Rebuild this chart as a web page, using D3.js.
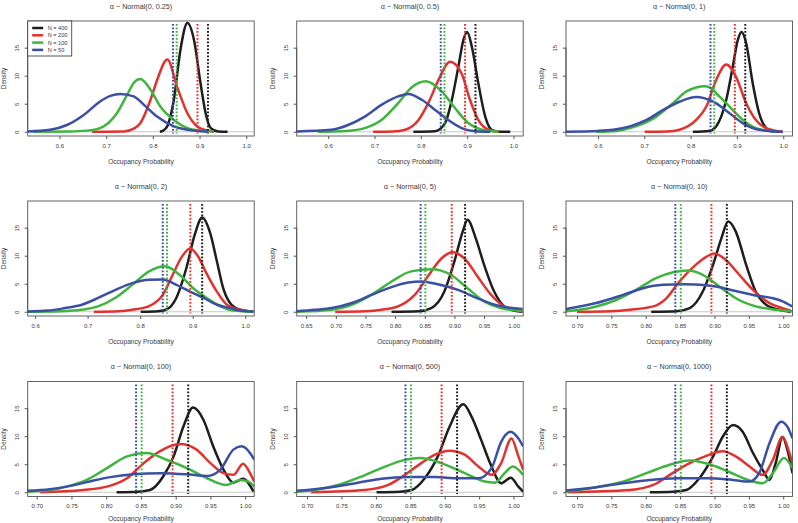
<!DOCTYPE html>
<html><head><meta charset="utf-8">
<script src="https://cdn.jsdelivr.net/npm/d3@7"></script>
<style>body{margin:0;background:#fff}</style></head>
<body><svg id="c" width="798" height="523"></svg>
<script>
// ---------- data ----------
const panelTitles = ["α ~ Normal(0, 0.25)","α ~ Normal(0, 0.5)","α ~ Normal(0, 1)",
  "α ~ Normal(0, 2)","α ~ Normal(0, 5)","α ~ Normal(0, 10)",
  "α ~ Normal(0, 100)","α ~ Normal(0, 500)","α ~ Normal(0, 1000)"];
const seriesLabels = ["N = 400","N = 200","N = 100","N = 50"];
const trueValues = [0.918, 0.8955, 0.851, 0.843];
const xDomains = [[0.532,1.017],[0.532,1.021],[0.531,1.020],[0.586,1.017],[0.634,1.016],
  [0.684,1.0135],[0.687,1.013],[0.685,1.014],[0.684,1.0135]];
const xTicksA = [0.6,0.7,0.8,0.9,1.0];
const xTicksB = [0.65,0.70,0.75,0.80,0.85,0.90,0.95,1.00];
const xTicksC = [0.70,0.75,0.80,0.85,0.90,0.95,1.00];
const yTicks = [0,5,10,15];
const yLimits = [0,19];
const xLabel = "Occupancy Probability";
const yLabel = "Density";

const p1_N400=[[0.815,0],[0.822,0.2],[0.831,1.0],[0.845,5.7],[0.859,14.6],[0.874,19.4],[0.888,16.4],[0.902,8.7],[0.913,3.3],[0.924,0.65],[0.94,0.05],[0.960,0]];
const p1_N200=[[0.670,0],[0.738,0.05],[0.760,0.6],[0.773,1.5],[0.795,5.7],[0.809,9.2],[0.831,12.9],[0.852,8.0],[0.874,3.3],[0.895,0.95],[0.917,0.2],[0.931,0]];
const p1_N100=[[0.544,0],[0.62,0.05],[0.66,0.2],[0.687,0.65],[0.723,3.3],[0.745,6.6],[0.759,8.7],[0.773,9.4],[0.795,7.5],[0.816,4.5],[0.845,2.1],[0.874,0.65],[0.902,0.2],[0.93,0]];
const p1_N50=[[0.532,0.05],[0.580,0.35],[0.616,1.2],[0.652,3.0],[0.687,5.4],[0.709,6.4],[0.730,6.75],[0.759,6.3],[0.781,4.8],[0.809,2.7],[0.845,0.95],[0.874,0.35],[0.917,0.02]];

const p2_N400=[[0.784,0],[0.83,0.1],[0.852,1.5],[0.867,5.7],[0.881,11.6],[0.892,16.4],[0.900,17.8],[0.910,15.2],[0.924,8.7],[0.939,2.7],[0.953,0.35],[0.97,0.02],[0.993,0]];
const p2_N200=[[0.697,0],[0.74,0.05],[0.766,0.35],[0.795,2.1],[0.816,5.1],[0.838,9.2],[0.863,12.5],[0.888,10.4],[0.906,5.7],[0.924,2.1],[0.946,0.35],[0.968,0]];
const p2_N100=[[0.578,0],[0.64,0.15],[0.679,0.65],[0.715,2.1],[0.751,5.1],[0.780,7.9],[0.811,9.0],[0.845,7.2],[0.874,4.2],[0.903,1.5],[0.932,0.35],[0.968,0]];
const p2_N50=[[0.532,0.05],[0.607,0.35],[0.643,1.2],[0.679,2.7],[0.715,4.8],[0.751,6.3],[0.773,6.75],[0.802,5.7],[0.831,3.9],[0.859,2.1],[0.888,0.65],[0.924,0.06],[0.95,0]];

const p3_N400=[[0.805,0],[0.84,0.15],[0.855,0.95],[0.877,5.7],[0.891,11.6],[0.902,16.4],[0.910,17.8],[0.920,15.8],[0.934,8.7],[0.948,3.3],[0.963,0.65],[0.975,0.1],[0.991,0]];
const p3_N200=[[0.701,0],[0.75,0.05],[0.776,0.35],[0.812,2.1],[0.834,4.5],[0.855,9.2],[0.877,12.0],[0.898,9.8],[0.920,5.1],[0.941,2.1],[0.963,0.65],[0.999,0]];
const p3_N100=[[0.597,0],[0.64,0.15],[0.669,0.65],[0.726,2.7],[0.762,5.1],[0.791,7.2],[0.812,7.9],[0.83,8.1],[0.841,7.9],[0.862,6.3],[0.884,4.5],[0.913,2.1],[0.941,0.65],[0.984,0]];
const p3_N50=[[0.531,0.02],[0.60,0.15],[0.633,0.35],[0.669,0.95],[0.705,2.1],[0.741,3.9],[0.777,5.4],[0.812,6.2],[0.848,5.4],[0.884,3.3],[0.913,1.5],[0.948,0.35],[0.999,0]];

const p4_N400=[[0.801,0],[0.835,0.1],[0.849,0.35],[0.869,2.5],[0.888,7.8],[0.904,13.8],[0.918,16.8],[0.933,14.1],[0.946,9.0],[0.958,4.2],[0.971,1.55],[0.990,0.35],[1.013,0]];
const p4_N200=[[0.712,0],[0.76,0.1],[0.785,0.35],[0.817,1.0],[0.843,3.0],[0.862,6.6],[0.878,9.6],[0.895,11.3],[0.910,9.9],[0.926,6.9],[0.946,3.6],[0.965,1.25],[0.990,0.35],[1.016,0]];
const p4_N100=[[0.58,0],[0.65,0.1],[0.689,0.35],[0.721,1.0],[0.753,2.5],[0.785,4.8],[0.817,7.2],[0.847,8.1],[0.875,6.6],[0.901,4.2],[0.926,2.5],[0.952,1.0],[0.978,0.2],[1.016,0]];
const p4_N50=[[0.58,0.05],[0.625,0.2],[0.657,0.65],[0.689,1.25],[0.721,2.5],[0.753,3.9],[0.785,5.1],[0.817,5.7],[0.843,5.75],[0.869,4.8],[0.895,3.6],[0.920,2.5],[0.946,1.25],[0.971,0.65],[0.990,0.2],[1.016,0.05]];

const p5_N400=[[0.794,0],[0.84,0.1],[0.861,0.65],[0.883,3.6],[0.900,9.0],[0.914,14.3],[0.922,16.4],[0.936,13.1],[0.950,8.4],[0.967,3.6],[0.984,0.95],[1.001,0.2],[1.015,0]];
const p5_N200=[[0.699,0],[0.75,0.1],[0.777,0.35],[0.805,0.95],[0.833,3.0],[0.861,7.2],[0.878,9.5],[0.897,10.6],[0.917,9.5],[0.939,6.3],[0.962,3.0],[0.984,0.95],[1.015,0.1]];
const p5_N100=[[0.634,0],[0.693,0.35],[0.727,1.25],[0.760,3.0],[0.794,5.4],[0.827,7.2],[0.861,7.6],[0.894,6.6],[0.922,4.2],[0.950,1.85],[0.978,0.65],[1.015,0.15]];
const p5_N50=[[0.634,0.1],[0.665,0.35],[0.693,0.65],[0.727,1.55],[0.760,3.0],[0.794,4.4],[0.822,5.2],[0.844,5.4],[0.872,4.9],[0.906,3.9],[0.939,2.4],[0.973,1.1],[1.015,0.5]];

const p6_N400=[[0.808,0],[0.845,0.1],[0.864,0.65],[0.883,3.6],[0.898,8.4],[0.910,13.1],[0.920,16.1],[0.931,14.3],[0.946,8.4],[0.960,3.6],[0.975,1.25],[0.994,0.35],[1.011,0]];
const p6_N200=[[0.700,0],[0.75,0.1],[0.777,0.35],[0.811,0.95],[0.830,2.4],[0.849,5.4],[0.873,8.4],[0.888,9.8],[0.900,10.4],[0.917,9.2],[0.936,6.6],[0.956,3.9],[0.980,1.55],[0.999,0.65],[1.011,0.2]];
const p6_N100=[[0.684,0.1],[0.704,0.35],[0.728,0.95],[0.757,2.1],[0.786,3.9],[0.815,6.0],[0.840,7.05],[0.861,7.35],[0.883,6.6],[0.907,4.5],[0.931,2.4],[0.960,0.95],[0.989,0.35],[1.013,0.1]];
const p6_N50=[[0.684,0.5],[0.728,1.55],[0.767,3.0],[0.796,4.2],[0.825,4.8],[0.855,4.9],[0.873,4.85],[0.902,4.5],[0.931,3.7],[0.960,2.9],[0.985,2.4],[0.999,1.85],[1.013,0.95]];

const p7_N400=[[0.815,0],[0.845,0.1],[0.863,0.4],[0.882,2.8],[0.897,6.4],[0.911,11.7],[0.925,15.1],[0.940,12.9],[0.954,8.2],[0.969,4.0],[0.983,1.7],[0.997,2.4],[1.012,0.1]];
const p7_N200=[[0.705,0],[0.767,0.4],[0.801,1.0],[0.830,2.5],[0.854,5.2],[0.877,7.3],[0.906,8.6],[0.930,7.6],[0.950,5.2],[0.969,3.4],[0.983,3.1],[0.997,5.1],[1.007,3.4],[1.013,1.9]];
const p7_N100=[[0.687,0.1],[0.719,0.4],[0.743,1.0],[0.772,2.2],[0.801,4.3],[0.830,6.4],[0.858,7.0],[0.887,5.8],[0.916,4.3],[0.945,2.5],[0.973,1.3],[0.993,2.2],[1.005,1.9],[1.013,1.0]];
const p7_N50=[[0.687,0.25],[0.719,0.55],[0.743,1.0],[0.772,1.8],[0.806,2.7],[0.839,3.2],[0.878,3.4],[0.916,3.2],[0.945,2.9],[0.964,4.0],[0.983,7.6],[0.995,8.2],[1.007,7.0],[1.013,5.8]];

const p8_N400=[[0.801,0],[0.835,0.1],[0.852,0.4],[0.871,2.5],[0.890,6.4],[0.907,11.7],[0.927,15.7],[0.939,13.5],[0.953,9.3],[0.968,4.6],[0.982,1.6],[0.996,2.6],[1.007,1.0],[1.014,0.1]];
const p8_N200=[[0.706,0],[0.784,0.4],[0.818,1.3],[0.842,3.1],[0.866,5.2],[0.886,6.7],[0.907,7.4],[0.929,6.7],[0.949,4.6],[0.968,3.1],[0.982,5.2],[0.997,9.6],[1.007,6.4],[1.014,4.0]];
const p8_N100=[[0.685,0.1],[0.711,0.4],[0.745,1.3],[0.779,2.8],[0.808,4.3],[0.837,5.6],[0.864,6.1],[0.895,5.2],[0.929,3.4],[0.958,1.9],[0.973,1.7],[0.987,3.4],[0.999,4.6],[1.014,3.1]];
const p8_N50=[[0.685,0.25],[0.735,0.9],[0.774,1.7],[0.808,2.4],[0.847,2.7],[0.886,2.7],[0.920,2.5],[0.949,2.5],[0.968,4.3],[0.982,9.0],[0.996,10.8],[1.007,9.6],[1.014,8.2]];

const p9_N400=[[0.806,0],[0.84,0.1],[0.859,0.4],[0.878,2.5],[0.898,6.4],[0.912,9.9],[0.927,12.0],[0.941,10.8],[0.956,7.0],[0.970,4.0],[0.980,2.2],[0.989,5.2],[0.999,9.8],[1.006,7.6],[1.0135,3.4]];
const p9_N200=[[0.687,0],[0.777,0.4],[0.811,1.3],[0.835,3.1],[0.859,4.9],[0.888,6.5],[0.912,7.3],[0.931,6.4],[0.951,4.6],[0.970,3.1],[0.985,5.8],[0.999,9.9],[1.009,7.0],[1.0135,5.2]];
const p9_N100=[[0.684,0.1],[0.728,0.9],[0.767,1.9],[0.801,3.4],[0.835,4.9],[0.864,5.65],[0.902,4.6],[0.931,3.1],[0.956,1.9],[0.970,1.6],[0.985,3.4],[1.001,6.1],[1.0135,4.3]];
const p9_N50=[[0.684,0.3],[0.728,0.9],[0.767,1.6],[0.806,2.2],[0.845,2.5],[0.888,2.5],[0.927,2.2],[0.951,1.9],[0.965,3.4],[0.980,8.75],[0.997,12.6],[1.006,11.7],[1.0135,9.6]];

const panelSeries = [
  [p1_N400,p1_N200,p1_N100,p1_N50],[p2_N400,p2_N200,p2_N100,p2_N50],[p3_N400,p3_N200,p3_N100,p3_N50],
  [p4_N400,p4_N200,p4_N100,p4_N50],[p5_N400,p5_N200,p5_N100,p5_N50],[p6_N400,p6_N200,p6_N100,p6_N50],
  [p7_N400,p7_N200,p7_N100,p7_N50],[p8_N400,p8_N200,p8_N100,p8_N50],[p9_N400,p9_N200,p9_N100,p9_N50]];
const panelTicks = [xTicksA,xTicksA,xTicksA,xTicksA,xTicksB,xTicksC,xTicksC,xTicksC,xTicksC];

// ---------- style / layout ----------
const colors = ["#1e1e1e","#e0332f","#3fb53f","#3b4fa5"];
const textCol = "#3a3a3a";
const font = "Liberation Sans, Arial, sans-serif";
const colLeft = [27.7, 296.7, 566], rowTop = [21, 201, 381.5];
const W = 226.5, H = 115;

const svg = d3.select("#c");
svg.append("rect").attr("width",798).attr("height",523).attr("fill","#fff");

panelTitles.forEach((title, i) => {
  const r = Math.floor(i/3), c = i%3;
  const g = svg.append("g").attr("transform",`translate(${colLeft[c]},${rowTop[r]})`);
  const pad = (yLimits[1]-yLimits[0])*0.04;
  const x = d3.scaleLinear().domain(xDomains[i]).range([0,W]);
  const y = d3.scaleLinear().domain([yLimits[0]-pad, yLimits[1]+pad]).range([H,0]);

  const clipId = "clip"+i;
  g.append("clipPath").attr("id",clipId).append("rect").attr("width",W).attr("height",H);

  // zero line
  g.append("line").attr("x1",0).attr("x2",W).attr("y1",y(0)).attr("y2",y(0))
    .attr("stroke","#c8c8c8").attr("stroke-width",1);

  const line = d3.line().x(d=>x(d[0])).y(d=>y(d[1])).curve(d3.curveMonotoneX);
  const cg = g.append("g").attr("clip-path",`url(#${clipId})`);
  panelSeries[i].forEach((s, k) => {
    cg.append("path").datum(s).attr("d",line).attr("fill","none")
      .attr("stroke",colors[k]).attr("stroke-width",2.5).attr("stroke-linejoin","round");
  });
  trueValues.forEach((v, k) => {
    cg.append("line").attr("x1",x(v)).attr("x2",x(v)).attr("y1",3).attr("y2",H-2.5)
      .attr("stroke",colors[k]).attr("stroke-width",2).attr("stroke-dasharray","1.8,1.7");
  });

  // box
  g.append("rect").attr("width",W).attr("height",H).attr("fill","none")
    .attr("stroke","#555").attr("stroke-width",0.9);

  // x axis
  const fmt = panelTicks[i] === xTicksA ? d3.format(".1f") : d3.format(".2f");
  const xa = g.append("g").attr("transform",`translate(0,${H})`)
    .call(d3.axisBottom(x).tickValues(panelTicks[i]).tickFormat(fmt).tickSize(3).tickPadding(4.5));
  xa.select(".domain").remove();
  xa.selectAll("line").attr("stroke","#555");
  xa.selectAll("text").attr("fill",textCol).style("font-family",font).style("font-size","6px");

  // y axis
  const ya = g.append("g")
    .call(d3.axisLeft(y).tickValues(yTicks).tickFormat(d3.format("d")).tickSize(3));
  ya.select(".domain").attr("d",`M0,${y(yTicks[0])}V${y(yTicks[yTicks.length-1])}`).attr("stroke","#555");
  ya.selectAll("line").attr("stroke","#555");
  ya.selectAll("text").attr("fill",textCol).style("font-family",font).style("font-size","6px")
    .attr("transform","rotate(-90)").attr("x",0).attr("y",-9).attr("dy","0").attr("text-anchor","middle");

  // labels
  g.append("text").attr("x",W/2).attr("y",-15).attr("dy","0.35em").attr("text-anchor","middle")
    .attr("fill",textCol).style("font-family",font).style("font-size","7.2px").text(title);
  const xlY = r === 2 ? H + 22.5 : H + 25.5;
  g.append("text").attr("x",W/2).attr("y",xlY).attr("dy","0.35em").attr("text-anchor","middle")
    .attr("fill",textCol).style("font-family",font).style("font-size","6.6px").text(xLabel);
  g.append("text").attr("transform",`translate(-24,${H/2}) rotate(-90)`).attr("dy","0.35em")
    .attr("text-anchor","middle").attr("fill",textCol).style("font-family",font)
    .style("font-size","6.4px").text(yLabel);

  // legend (first panel)
  if (i === 0) {
    const lg = g.append("g");
    lg.append("rect").attr("x",0).attr("y",0).attr("width",44).attr("height",35)
      .attr("fill","#fff").attr("stroke","#444").attr("stroke-width",0.9);
    seriesLabels.forEach((lab, k) => {
      const yy = 7 + k*7.3;
      lg.append("line").attr("x1",4.5).attr("x2",15.5).attr("y1",yy).attr("y2",yy)
        .attr("stroke",colors[k]).attr("stroke-width",2.5);
      lg.append("text").attr("x",20).attr("y",yy).attr("dy","0.35em").attr("fill",textCol)
        .style("font-family",font).style("font-size","5.6px").text(lab);
    });
  }
});
</script></body></html>
